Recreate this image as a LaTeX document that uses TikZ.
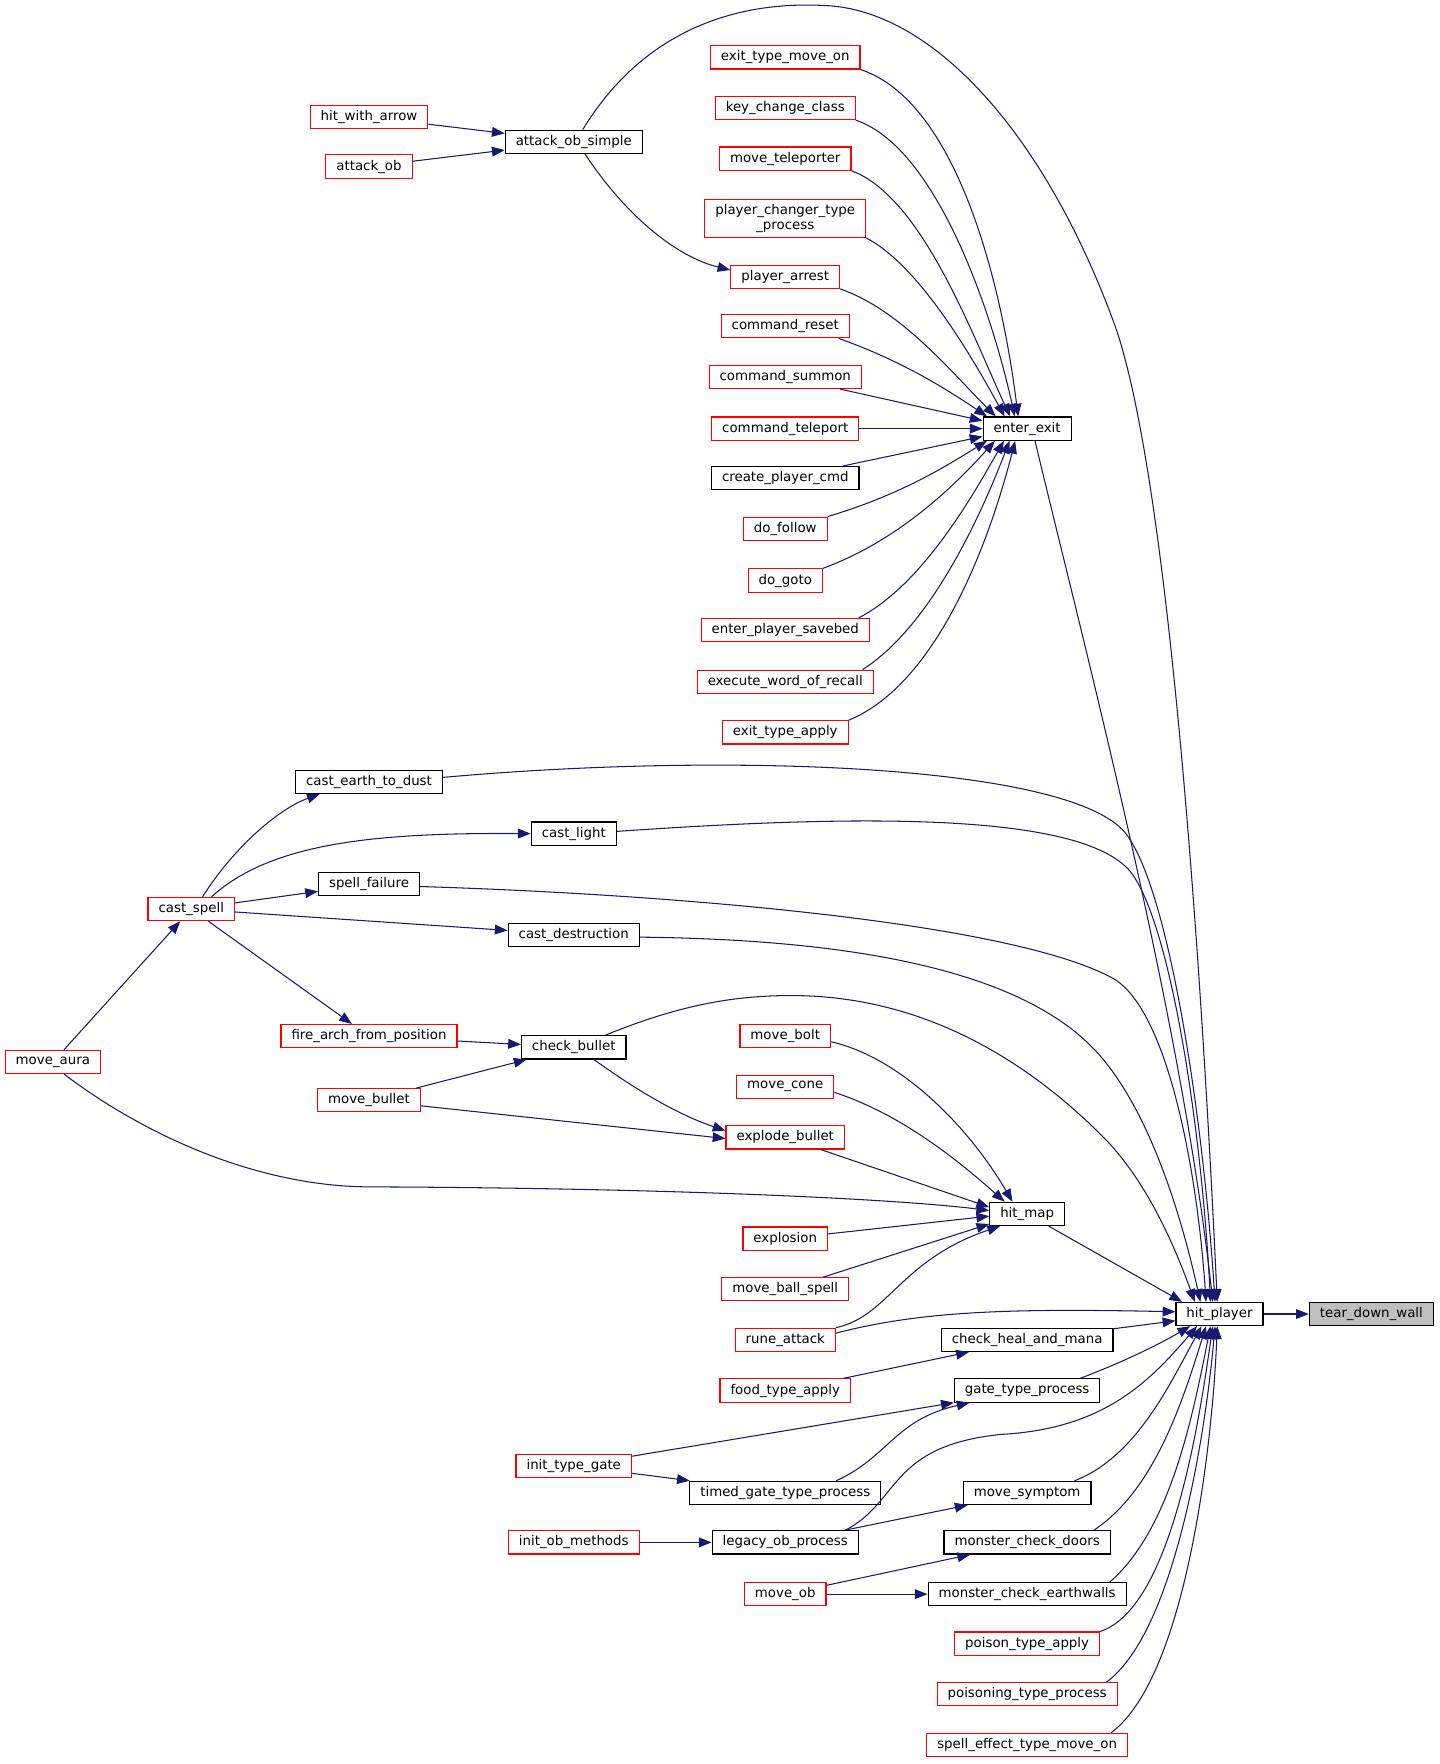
\documentclass[tikz,border=0pt]{standalone}
\usepackage{fontspec}
\setmainfont{DejaVu Sans}
\usepackage{tikz}
\usetikzlibrary{calc,arrows.meta}
\definecolor{callblue}{HTML}{191970}
\definecolor{extred}{HTML}{FF0000}
\definecolor{rootbg}{HTML}{BFBFBF}
\tikzset{
  fn/.style={draw=black, fill=white, line width=0.75pt, rectangle, inner xsep=7pt, inner ysep=0pt,
    minimum height=15.5pt, font=\fontsize{8.9pt}{9.75pt}\selectfont},
  fnred/.style={fn, draw=extred},
  fnroot/.style={fn, fill=rootbg},
  call/.style={draw=callblue, line width=0.7pt, -{Triangle[length=8.5pt,width=6.5pt]}}
}

\begin{document}
\begin{tikzpicture}[x=0.75pt,y=-0.75pt]
  \fill[white] (0,0) rectangle (1280,1568);
  \useasboundingbox (0,0) rectangle (1280,1568);
  % callers, from left to right
  \node[fnred] (ma) at (47,944) {move\_aura};
  \node[fnred] (cs) at (170,808) {cast\_spell};
  \node[fnred] (hwa) at (328,104) {hit\_with\_arrow};
  \node[fnred] (atk) at (328,148) {attack\_ob};
  \node[fn] (ced) at (328,695) {cast\_earth\_to\_dust};
  \node[fn] (sfl) at (328,786) {spell\_failure};
  \node[fnred] (fafp) at (328,921) {fire\_arch\_from\_position};
  \node[fnred] (mbu) at (328,978) {move\_bullet};
  \node[fn] (aos) at (510,126) {attack\_ob\_simple};
  \node[fn] (clt) at (510,741) {cast\_light};
  \node[fn] (cds) at (510,831) {cast\_destruction};
  \node[fn] (cb) at (510,931) {check\_bullet};
  \node[fnred] (itg) at (510,1303) {init\_type\_gate};
  \node[fnred] (iom) at (510,1371) {init\_ob\_methods};
  \node[fnred] (etmo) at (698,51) {exit\_type\_move\_on};
  \node[fnred] (kcc) at (698,96) {key\_change\_class};
  \node[fnred] (mtel) at (698,141) {move\_teleporter};
  \node[fnred, align=center, minimum height=25.5pt] (pctp) at (698,194) {player\_changer\_type\\\_process};
  \node[fnred] (parr) at (698,246) {player\_arrest};
  \node[fnred] (crst) at (698,290) {command\_reset};
  \node[fnred] (csum) at (698,335) {command\_summon};
  \node[fnred] (ctel) at (698,381) {command\_teleport};
  \node[fn] (cpc) at (698,425) {create\_player\_cmd};
  \node[fnred] (dfol) at (698,470) {do\_follow};
  \node[fnred] (dgo) at (698,516) {do\_goto};
  \node[fnred] (eps) at (698,560) {enter\_player\_savebed};
  \node[fnred] (ewr) at (698,606) {execute\_word\_of\_recall};
  \node[fnred] (eta) at (698,651) {exit\_type\_apply};
  \node[fnred] (mbo) at (698,921) {move\_bolt};
  \node[fnred] (mco) at (698,966) {move\_cone};
  \node[fnred] (eb) at (698,1011) {explode\_bullet};
  \node[fnred] (expl) at (698,1101) {explosion};
  \node[fnred] (mbs) at (698,1146) {move\_ball\_spell};
  \node[fnred] (ra) at (698,1191) {rune\_attack};
  \node[fnred] (fta) at (698,1236) {food\_type\_apply};
  \node[fn] (tgtp) at (698,1327) {timed\_gate\_type\_process};
  \node[fn] (lop) at (698,1371) {legacy\_ob\_process};
  \node[fnred] (mob) at (698,1417) {move\_ob};
  \node[fn] (ee) at (913,381) {enter\_exit};
  \node[fn] (hm) at (913,1079) {hit\_map};
  \node[fn] (chm) at (913,1191) {check\_heal\_and\_mana};
  \node[fn] (gtp) at (913,1236) {gate\_type\_process};
  \node[fn] (msy) at (913,1327) {move\_symptom};
  \node[fn] (mcd) at (913,1371) {monster\_check\_doors};
  \node[fn] (mce) at (913,1417) {monster\_check\_earthwalls};
  \node[fnred] (pta) at (913,1461) {poison\_type\_apply};
  \node[fnred] (ptp) at (913,1506) {poisoning\_type\_process};
  \node[fnred] (setm) at (913,1551) {spell\_effect\_type\_move\_on};
  \node[fn] (hp) at (1084,1168) {hit\_player};
  \node[fnroot] (tdw) at (1219,1168) {tear\_down\_wall};

  % attack_ob_simple
  \draw[call] (hwa) -- (aos);
  \draw[call] (atk) -- (aos);
  \draw[call] ($(aos.south)+(10,0)$) .. controls (555,190) and (600,228) .. ($(parr.west)+(0,-6)$);
  \draw[call] ($(aos.north)+(8,0)$) .. controls (570,30) and (650,0) .. (735,5)
    .. controls (830,10) and (930,120) .. (992,292)
    .. controls (1042,440) and (1070,900) .. ($(hp.north)+(-2,0)$);

  % enter_exit
  \draw[call] (etmo.south east) .. controls (850,90) and (890,250) .. ($(ee.north)+(-8,0)$);
  \draw[call] (kcc.south east) .. controls (830,130) and (880,270) .. ($(ee.north)+(-11,0)$);
  \draw[call] (mtel.south east) .. controls (820,175) and (865,300) .. ($(ee.north)+(-15,0)$);
  \draw[call] (pctp.south east) .. controls (815,235) and (860,310) .. ($(ee.north)+(-20,0)$);
  \draw[call] (parr.south east) .. controls (800,275) and (845,330) .. ($(ee.north)+(-28,0)$);
  \draw[call] ($(crst.south east)+(-10,0)$) .. controls (800,320) and (840,345) .. ($(ee.north west)+(4,0)$);
  \draw[call] (csum) -- ($(ee.west)+(0,-7)$);
  \draw[call] (ctel) -- (ee);
  \draw[call] (cpc) -- ($(ee.west)+(0,7)$);
  \draw[call] (dfol.north east) .. controls (800,440) and (840,415) .. ($(ee.south west)+(4,0)$);
  \draw[call] (dgo.north east) .. controls (800,480) and (850,430) .. ($(ee.south west)+(11,0)$);
  \draw[call] ($(eps.north east)+(-10,0)$) .. controls (820,520) and (865,440) .. ($(ee.south west)+(19,0)$);
  \draw[call] ($(ewr.north east)+(-10,0)$) .. controls (830,555) and (875,450) .. ($(ee.south west)+(24,0)$);
  \draw[call] (eta.north east) .. controls (840,605) and (885,460) .. ($(ee.south west)+(29,0)$);
  \draw[call] ($(ee.south)+(7,0)$) .. controls (960,560) and (1050,900) .. ($(hp.north)+(-6,0)$);

  % cast_spell
  \draw[call] (ma) -- (cs);
  \draw[call] ($(cs.north)+(10,0)$) .. controls (210,750) and (250,718) .. ($(ced.south west)+(22,0)$);
  \draw[call] ($(cs.north)+(18,0)$) .. controls (240,750) and (330,740) .. (clt.west);
  \draw[call] (cs) -- (sfl);
  \draw[call] (cs) -- (cds);
  \draw[call] (cs) -- (fafp);
  \draw[call] ($(ced.east)+(0,-4)$) .. controls (650,668) and (950,680) .. (1000,740)
    .. controls (1040,790) and (1070,1000) .. ($(hp.north)+(-4,0)$);
  \draw[call] ($(clt.east)+(0,-2)$) .. controls (750,725) and (960,720) .. (1005,775)
    .. controls (1040,820) and (1068,1000) .. ($(hp.north)+(-8,0)$);
  \draw[call] ($(sfl.east)+(0,2)$) .. controls (600,795) and (900,820) .. (990,870)
    .. controls (1040,900) and (1065,1050) .. ($(hp.north)+(-12,0)$);
  \draw[call] ($(cds.east)+(0,2)$) .. controls (750,835) and (900,860) .. (970,930)
    .. controls (1020,980) and (1050,1080) .. ($(hp.north)+(-17,0)$);

  % bullets
  \draw[call] (fafp) -- (cb);
  \draw[call] (mbu) -- (cb);
  \draw[call] ($(cb.south)+(18,0)$) .. controls (560,965) and (600,990) .. ($(eb.west)+(0,-6)$);
  \draw[call] (mbu) -- ($(eb.west)+(0,1)$);
  \draw[call] ($(cb.north)+(28,0)$) .. controls (600,895) and (650,884) .. (710,885)
    .. controls (820,887) and (910,940) .. (980,1010)
    .. controls (1020,1050) and (1045,1110) .. ($(hp.north)+(-22,0)$);

  % hit_map
  \draw[call] ($(mbo.east)+(0,5)$) .. controls (800,940) and (860,1000) .. ($(hm.north)+(-13,0)$);
  \draw[call] ($(mco.east)+(0,5)$) .. controls (800,990) and (850,1030) .. ($(hm.north)+(-20,0)$);
  \draw[call] (eb) -- ($(hm.west)+(0,-6)$);
  \draw[call] (expl) -- ($(hm.west)+(0,2)$);
  \draw[call] (mbs) -- ($(hm.west)+(0,9)$);
  \draw[call] (ra.north east) .. controls (790,1170) and (800,1120) .. ($(hm.south)+(-24,0)$);
  \draw[call] ($(ma.south)+(10,0)$) .. controls (130,1010) and (230,1055) .. (330,1055)
    .. controls (600,1056) and (800,1066) .. ($(hm.west)+(0,-3)$);
  \draw[call] (hm) -- ($(hp.north west)+(6,0)$);

  % hit_player, lower callers
  \draw[call] ($(ra.east)+(0,-6)$) .. controls (820,1165) and (900,1163) .. ($(hp.west)+(0,-2)$);
  \draw[call] (fta) -- (chm);
  \draw[call] (chm) -- ($(hp.west)+(0,6)$);
  \draw[call] (itg) -- (gtp);
  \draw[call] (itg) -- (tgtp);
  \draw[call] ($(tgtp.north east)+(-40,0)$) .. controls (790,1295) and (795,1262) .. ($(gtp.south west)+(14,0)$);
  \draw[call] ($(gtp.north east)+(-18,0)$) .. controls (1000,1210) and (1030,1195) .. ($(hp.south)+(-26,0)$);
  \draw[call] (iom) -- (lop);
  \draw[call] (lop) -- (msy);
  \draw[call] ($(lop.north east)+(-12,0)$) .. controls (800,1335) and (790,1285) .. (890,1275)
    .. controls (980,1270) and (1020,1230) .. ($(hp.south)+(-20,0)$);
  \draw[call] ($(msy.north east)+(-15,0)$) .. controls (1010,1295) and (1040,1230) .. ($(hp.south)+(-16,0)$);
  \draw[call] (mob) -- (mcd);
  \draw[call] (mob) -- (mce);
  \draw[call] ($(mcd.north east)+(-15,0)$) .. controls (1025,1325) and (1050,1250) .. ($(hp.south)+(-12,0)$);
  \draw[call] ($(mce.north east)+(-15,0)$) .. controls (1040,1360) and (1060,1260) .. ($(hp.south)+(-8,0)$);
  \draw[call] (pta.north east) .. controls (1040,1430) and (1065,1270) .. ($(hp.south)+(-6,0)$);
  \draw[call] ($(ptp.north east)+(-10,0)$) .. controls (1045,1450) and (1072,1270) .. ($(hp.south)+(-4,0)$);
  \draw[call] ($(setm.north east)+(-15,0)$) .. controls (1055,1490) and (1078,1280) .. ($(hp.south)+(-2,0)$);
  \draw[call] (hp) -- (tdw);
\end{tikzpicture}
\end{document}
